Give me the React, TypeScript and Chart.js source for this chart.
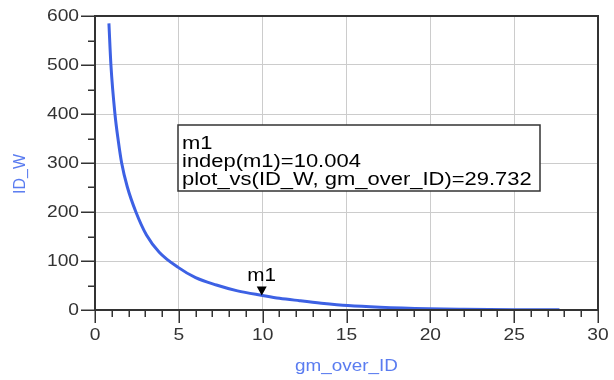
import React, { useEffect, useRef } from "react";
import { Chart, registerables } from "chart.js";

Chart.register(...registerables);

// ---- data ----
const gmOverId = [0.83, 0.95, 1.19, 1.39, 1.59, 1.92, 2.44, 3.07, 3.83, 4.96, 6.0, 7.24, 8.5, 10.0, 11.0, 12.2, 13.5, 15.08, 17.0, 19.9, 22.0, 25.0, 27.7];
const idW = [585, 500, 400, 345, 300, 252, 200, 153, 118, 87, 66, 51, 39, 29.7, 24, 19, 14, 9, 5.5, 2.5, 1.5, 0.7, 0.3];

const xTickValues = [0, 5, 10, 15, 20, 25, 30];
const xTickLabels = ["0", "5", "10", "15", "20", "25", "30"];
const yTickValues = [0, 100, 200, 300, 400, 500, 600];
const yTickLabels = ["0", "100", "200", "300", "400", "500", "600"];
const xMinorValues = [0, 1, 2, 3, 4, 5, 6, 7, 8, 9, 10, 11, 12, 13, 14, 15, 16, 17, 18, 19, 20, 21, 22, 23, 24, 25, 26, 27, 28, 29, 30];
const yMinorValues = [0, 50, 100, 150, 200, 250, 300, 350, 400, 450, 500, 550, 600];

const markerName = "m1";
const markerX = 10.004;
const markerY = 29.732;
const markerLines = ["m1", "indep(m1)=10.004", "plot_vs(ID_W, gm_over_ID)=29.732"];

const xTitle = "gm_over_ID";
const yTitle = "ID_W";

const FONT = '"Liberation Sans", Arial, sans-serif';
const LINE_BLUE = "#3d61e4";
const TITLE_BLUE = "#5a7cf0";
const AXIS_DARK = "#333333";

function sText(ctx: CanvasRenderingContext2D, text: string, px: number, py: number, align: CanvasTextAlign, baseline: CanvasTextBaseline, sx: number) {
  ctx.save();
  ctx.translate(px, py);
  ctx.scale(sx, 1);
  ctx.textAlign = align;
  ctx.textBaseline = baseline;
  ctx.fillText(text, 0, 0);
  ctx.restore();
}

const decorPlugin = {
  id: "adsDecor",
  afterDraw(chart: any) {
    const ctx: CanvasRenderingContext2D = chart.ctx;
    const a = chart.chartArea;
    const xs = chart.scales.x;
    const ys = chart.scales.y;
    ctx.save();

    // frame
    ctx.strokeStyle = AXIS_DARK;
    ctx.lineWidth = 2;
    ctx.strokeRect(a.left, a.top, a.right - a.left, a.bottom - a.top);

    // ticks
    ctx.lineWidth = 1.5;
    ctx.beginPath();
    yMinorValues.forEach((v) => {
      const py = Math.round(ys.getPixelForValue(v)) + 0.25;
      const len = yTickValues.includes(v) ? 14 : 7;
      ctx.moveTo(a.left - len, py);
      ctx.lineTo(a.left, py);
    });
    xMinorValues.forEach((v) => {
      const px = Math.round(xs.getPixelForValue(v)) + 0.25;
      const len = xTickValues.includes(v) ? 13 : 7;
      ctx.moveTo(px, a.bottom);
      ctx.lineTo(px, a.bottom + len);
    });
    ctx.stroke();

    // tick labels
    ctx.fillStyle = AXIS_DARK;
    ctx.font = `16px ${FONT}`;
    yTickValues.forEach((v, i) => {
      sText(ctx, yTickLabels[i], a.left - 16, ys.getPixelForValue(v) + 1, "right", "middle", 1.2);
    });
    xTickValues.forEach((v, i) => {
      sText(ctx, xTickLabels[i], xs.getPixelForValue(v), a.bottom + 30, "center", "alphabetic", 1.2);
    });

    // axis titles
    ctx.fillStyle = TITLE_BLUE;
    ctx.font = `16px ${FONT}`;
    sText(ctx, xTitle, (a.left + a.right) / 2, a.bottom + 61, "center", "alphabetic", 1.18);
    ctx.save();
    ctx.translate(21, (a.top + a.bottom) / 2 + 11);
    ctx.rotate(-Math.PI / 2);
    ctx.textAlign = "center";
    ctx.textBaseline = "middle";
    ctx.fillText(yTitle, 0, 0);
    ctx.restore();

    // marker
    const mx = xs.getPixelForValue(markerX);
    const my = ys.getPixelForValue(markerY);
    ctx.fillStyle = "#000";
    ctx.beginPath();
    ctx.moveTo(mx - 1, my);
    ctx.lineTo(mx - 6, my - 9);
    ctx.lineTo(mx + 4, my - 9);
    ctx.closePath();
    ctx.fill();
    ctx.font = `18px ${FONT}`;
    sText(ctx, markerName, mx - 1, my - 14, "center", "alphabetic", 1.15);

    // readout box
    const bx = 178, by = 125, bw = 362, bh = 66;
    ctx.fillStyle = "#fff";
    ctx.fillRect(bx, by, bw, bh);
    ctx.strokeStyle = AXIS_DARK;
    ctx.lineWidth = 1.5;
    ctx.strokeRect(bx, by, bw, bh);
    ctx.fillStyle = "#000";
    ctx.font = `18px ${FONT}`;
    markerLines.forEach((t, i) => {
      sText(ctx, t, bx + 4, by + 23.5 + i * 18, "left", "alphabetic", 1.22);
    });

    ctx.restore();
  },
};

export default function App() {
  const ref = useRef<HTMLCanvasElement>(null);
  useEffect(() => {
    if (!ref.current) return;
    const chart = new Chart(ref.current, {
      type: "scatter",
      data: {
        datasets: [
          {
            data: gmOverId.map((x, i) => ({ x, y: idW[i] })),
            showLine: true,
            borderColor: LINE_BLUE,
            backgroundColor: LINE_BLUE,
            borderWidth: 3,
            pointRadius: 0,
            cubicInterpolationMode: "monotone",
          } as any,
        ],
      },
      options: {
        animation: false,
        responsive: true,
        maintainAspectRatio: false,
        layout: { padding: { top: 16, right: 16, left: 0, bottom: 0 } },
        plugins: { legend: { display: false }, tooltip: { enabled: false } },
        scales: {
          x: {
            type: "linear",
            min: 0,
            max: 30,
            ticks: { stepSize: 5, display: false },
            grid: { color: "#cccccc", lineWidth: 1, drawTicks: false },
            border: { display: false },
            afterFit: (s: any) => {
              s.height = 70;
            },
          },
          y: {
            type: "linear",
            min: 0,
            max: 600,
            ticks: { stepSize: 100, display: false },
            grid: { color: "#cccccc", lineWidth: 1, drawTicks: false },
            border: { display: false },
            afterFit: (s: any) => {
              s.width = 95;
            },
          },
        },
      },
      plugins: [decorPlugin],
    });
    return () => chart.destroy();
  }, []);
  return (
    <div style={{ position: "absolute", left: 0, top: 0, width: 614, height: 380, background: "#fff" }}>
      <canvas ref={ref} />
    </div>
  );
}
